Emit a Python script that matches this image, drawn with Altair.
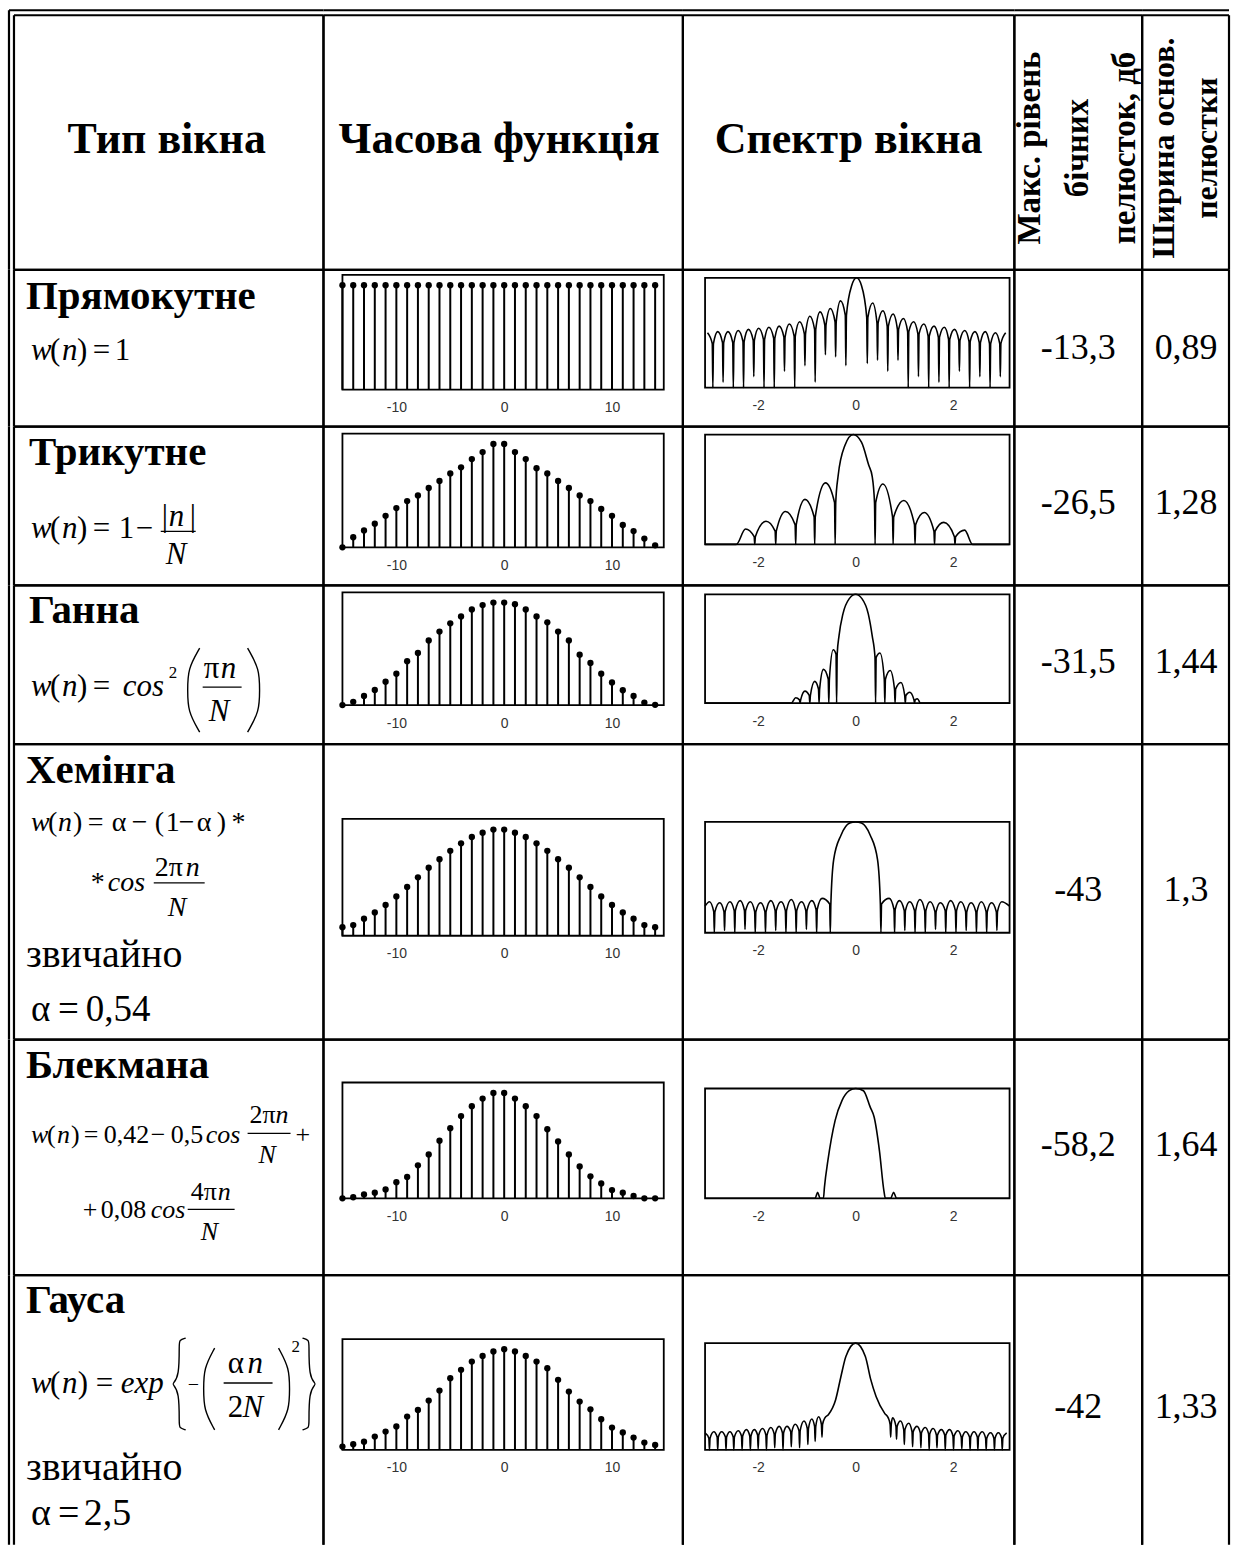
import altair as alt
import pandas as pd

SERIF = "Liberation Serif"
SANS = "Liberation Sans"

# ---------------- table content ----------------
window_names = ["Прямокутне", "Трикутне", "Ганна", "Хемінга", "Блекмана", "Гауса"]
sidelobe_db = [-13.3, -26.5, -31.5, -43, -58.2, -42]
mainlobe_width = [0.89, 1.28, 1.44, 1.3, 1.64, 1.33]
headers = ["Тип вікна", "Часова функція", "Спектр вікна"]
rot_header_4 = ["Макс. рівень", "бічних", "пелюсток, дб"]
rot_header_5 = ["Ширина основ.", "пелюстки"]
usual_word = "звичайно"

# time-domain windows, samples n = -15 .. 14 (height relative to the peak)
n_idx = [-15, -14, -13, -12, -11, -10, -9, -8, -7, -6, -5, -4, -3, -2, -1,
         0, 1, 2, 3, 4, 5, 6, 7, 8, 9, 10, 11, 12, 13, 14]
w_rect = [1.0, 1.0, 1.0, 1.0, 1.0, 1.0, 1.0, 1.0, 1.0, 1.0, 1.0, 1.0, 1.0, 1.0, 1.0,
          1.0, 1.0, 1.0, 1.0, 1.0, 1.0, 1.0, 1.0, 1.0, 1.0, 1.0, 1.0, 1.0, 1.0, 1.0]
w_tri = [0.0, 0.098, 0.164, 0.229, 0.305, 0.380, 0.447, 0.502, 0.574, 0.642, 0.715, 0.774, 0.853, 0.921, 1.0,
         1.0, 0.921, 0.853, 0.765, 0.715, 0.642, 0.574, 0.502, 0.447, 0.372, 0.305, 0.216, 0.157, 0.085, 0.02]
w_hann = [0.0, 0.032, 0.09, 0.148, 0.228, 0.306, 0.428, 0.508, 0.63, 0.717, 0.797, 0.865, 0.932, 0.975, 1.0,
          1.0, 0.984, 0.932, 0.865, 0.807, 0.717, 0.63, 0.492, 0.411, 0.306, 0.221, 0.145, 0.09, 0.025, 0.003]
w_hamm = [0.08, 0.1, 0.16, 0.22, 0.29, 0.37, 0.46, 0.55, 0.64, 0.72, 0.8, 0.87, 0.93, 0.97, 1.0,
          1.0, 0.97, 0.93, 0.87, 0.8, 0.72, 0.64, 0.55, 0.46, 0.37, 0.29, 0.22, 0.16, 0.1, 0.08]
w_black = [0.0, 0.01, 0.037, 0.054, 0.084, 0.153, 0.203, 0.313, 0.416, 0.547, 0.666, 0.781, 0.875, 0.947, 1.0,
           1.0, 0.947, 0.875, 0.781, 0.656, 0.54, 0.416, 0.303, 0.209, 0.141, 0.078, 0.054, 0.022, 0.0, 0.0]
w_gauss = [0.033, 0.056, 0.082, 0.132, 0.182, 0.232, 0.331, 0.397, 0.49, 0.589, 0.712, 0.795, 0.877, 0.933, 0.977,
           1.0, 0.977, 0.933, 0.877, 0.811, 0.696, 0.579, 0.48, 0.403, 0.304, 0.222, 0.173, 0.122, 0.073, 0.049]

# window spectra on a log scale (level = fraction of the plot height).
# *_pk: lobe tops and main-lobe outline; *_nu: nulls between lobes (where the dip starts, how deep it goes)
rect_pk_f = [-3.04, -2.83, -2.62, -2.41, -2.20, -1.99, -1.78, -1.57, -1.36, -1.15, -0.94, -0.73, -0.52, -0.31,
             -0.08, 0.02, 0.12, 0.35, 0.56, 0.77, 0.98, 1.19, 1.40, 1.61, 1.82, 2.03, 2.24, 2.45, 2.66, 2.87, 3.08]
rect_pk_l = [0.50, 0.51, 0.51, 0.52, 0.53, 0.54, 0.55, 0.56, 0.58, 0.60, 0.65, 0.69, 0.72, 0.79,
             0.93, 1.0, 0.93, 0.77, 0.70, 0.67, 0.63, 0.60, 0.58, 0.56, 0.55, 0.53, 0.52, 0.51, 0.51, 0.50, 0.50]
rect_nu_f = [-2.93, -2.72, -2.51, -2.30, -2.09, -1.88, -1.67, -1.46, -1.25, -1.04, -0.83, -0.62, -0.41, -0.20,
             0.24, 0.45, 0.66, 0.87, 1.08, 1.29, 1.50, 1.71, 1.92, 2.13, 2.34, 2.55, 2.76, 2.97]
rect_nu_top = [0.40, 0.41, 0.41, 0.42, 0.43, 0.44, 0.45, 0.46, 0.47, 0.49, 0.53, 0.57, 0.60, 0.66,
               0.64, 0.59, 0.56, 0.53, 0.51, 0.49, 0.47, 0.46, 0.44, 0.43, 0.42, 0.41, 0.40, 0.40]
rect_nu_bot = [0.0, 0.05, 0.0, 0.0, 0.10, 0.0, 0.0, 0.15, 0.0, 0.20, 0.05, 0.30, 0.28, 0.20,
               0.22, 0.25, 0.15, 0.25, 0.0, 0.10, 0.0, 0.05, 0.0, 0.15, 0.0, 0.10, 0.0, 0.10]

tri_pk_f = [-3.09, -2.45, -2.26, -1.84, -1.44, -1.04, -0.62, -0.36, -0.22, -0.05, 0.12, 0.27, 0.34,
            0.56, 0.99, 1.41, 1.81, 2.24, 2.40, 3.16]
tri_pk_l = [0.0, 0.0, 0.14, 0.21, 0.30, 0.41, 0.56, 0.62, 0.90, 1.0, 0.93, 0.72, 0.62,
            0.55, 0.40, 0.29, 0.20, 0.13, 0.0, 0.0]
tri_nu_f = [-2.07, -1.64, -1.23, -0.84, -0.42, 0.40, 0.77, 1.22, 1.62, 2.04]
tri_nu_top = [0.07, 0.12, 0.18, 0.25, 0.38, 0.38, 0.25, 0.18, 0.12, 0.07]
tri_nu_bot = [0.0, 0.0, 0.0, 0.0, 0.0, 0.0, 0.0, 0.0, 0.0, 0.0]

hann_pk_f = [-3.09, -1.32, -1.23, -1.04, -0.84, -0.66, -0.46, -0.34, -0.26, -0.13, 0.0, 0.13, 0.26, 0.34,
             0.50, 0.71, 0.93, 1.11, 1.27, 1.33, 3.16]
hann_pk_l = [0.0, 0.0, 0.05, 0.11, 0.20, 0.31, 0.49, 0.62, 0.82, 0.96, 1.0, 0.96, 0.82, 0.62,
             0.46, 0.30, 0.19, 0.10, 0.04, 0.0, 0.0]
hann_nu_f = [-1.14, -0.94, -0.75, -0.55, -0.39, 0.41, 0.60, 0.81, 1.02, 1.21]
hann_nu_top = [0.03, 0.07, 0.13, 0.22, 0.45, 0.42, 0.22, 0.13, 0.07, 0.03]
hann_nu_bot = [0.0, 0.0, 0.0, 0.0, 0.0, 0.0, 0.0, 0.0, 0.0, 0.0]

hamm_pk_f = [-3.09, -3.0, -2.79, -2.58, -2.37, -2.16, -1.95, -1.74, -1.53, -1.32, -1.11, -0.90, -0.69,
             -0.45, -0.30, -0.12, 0.0, 0.12, 0.30, 0.45,
             0.69, 0.90, 1.11, 1.32, 1.53, 1.74, 1.95, 2.16, 2.37, 2.58, 2.79, 3.0, 3.16]
hamm_pk_l = [0.24, 0.28, 0.27, 0.28, 0.29, 0.28, 0.27, 0.29, 0.28, 0.30, 0.28, 0.29, 0.31,
             0.66, 0.88, 0.99, 1.0, 0.99, 0.88, 0.66,
             0.31, 0.29, 0.28, 0.30, 0.28, 0.27, 0.29, 0.28, 0.27, 0.28, 0.27, 0.28, 0.24]
hamm_nu_f = [-2.9, -2.69, -2.48, -2.27, -2.06, -1.85, -1.64, -1.43, -1.22, -1.01, -0.80, -0.52,
             0.52, 0.80, 1.01, 1.22, 1.43, 1.64, 1.85, 2.06, 2.27, 2.48, 2.69, 2.9]
hamm_nu_top = [0.19, 0.19, 0.20, 0.20, 0.19, 0.19, 0.20, 0.20, 0.20, 0.20, 0.21, 0.26,
               0.26, 0.21, 0.20, 0.20, 0.20, 0.19, 0.20, 0.20, 0.19, 0.19, 0.19, 0.19]
hamm_nu_bot = [0.0, 0.02, 0.0, 0.03, 0.0, 0.0, 0.02, 0.0, 0.0, 0.03, 0.0, 0.0,
               0.0, 0.0, 0.02, 0.0, 0.0, 0.03, 0.0, 0.0, 0.02, 0.0, 0.0, 0.02]

black_pk_f = [-3.09, -0.83, -0.78, -0.73, -0.66, -0.64, -0.57, -0.42, -0.28, -0.13,
              0.0, 0.16, 0.30, 0.38, 0.49, 0.58, 0.61, 0.72, 0.78, 0.84, 3.16]
black_pk_l = [0.0, 0.0, 0.055, 0.0, 0.0, 0.10, 0.34, 0.71, 0.89, 0.98,
              1.0, 0.98, 0.83, 0.74, 0.43, 0.07, 0.0, 0.0, 0.055, 0.0, 0.0]
black_nu_f = []
black_nu_top = []
black_nu_bot = []

gauss_pk_f = [-3.09, -2.91, -2.75, -2.58, -2.41, -2.24, -2.08, -1.91, -1.74, -1.57, -1.41, -1.24, -1.06, -0.90,
              -0.76, -0.63, -0.56, -0.41, -0.30, -0.20, 0.0, 0.20, 0.31, 0.42, 0.60, 0.67,
              0.76, 0.92, 1.09, 1.26, 1.43, 1.59, 1.76, 1.93, 2.10, 2.26, 2.43, 2.60, 2.77, 2.93, 3.10]
gauss_pk_l = [0.16, 0.17, 0.17, 0.17, 0.18, 0.19, 0.19, 0.20, 0.21, 0.22, 0.22, 0.24, 0.27, 0.29,
              0.31, 0.30, 0.33, 0.47, 0.69, 0.875, 1.0, 0.875, 0.66, 0.50, 0.34, 0.30,
              0.30, 0.27, 0.25, 0.22, 0.21, 0.20, 0.19, 0.19, 0.18, 0.17, 0.17, 0.17, 0.16, 0.16, 0.16]
gauss_nu_f = [-3.0, -2.83, -2.66, -2.5, -2.33, -2.16, -2.0, -1.83, -1.66, -1.49, -1.32, -1.15, -0.98, -0.83,
              -0.69, 0.72, 0.84, 1.0, 1.17, 1.34, 1.51, 1.67, 1.84, 2.01, 2.18, 2.35, 2.51, 2.68, 2.85, 3.01]
gauss_nu_top = [0.11, 0.12, 0.12, 0.12, 0.13, 0.13, 0.14, 0.14, 0.15, 0.16, 0.17, 0.18, 0.20, 0.22,
                0.24, 0.24, 0.22, 0.19, 0.17, 0.16, 0.15, 0.14, 0.14, 0.13, 0.12, 0.12, 0.12, 0.11, 0.11, 0.11]
gauss_nu_bot = [0.0, 0.0, 0.0, 0.0, 0.0, 0.0, 0.01, 0.0, 0.02, 0.0, 0.03, 0.02, 0.05, 0.08,
                0.12, 0.12, 0.10, 0.05, 0.03, 0.02, 0.0, 0.02, 0.0, 0.0, 0.01, 0.0, 0.0, 0.0, 0.0, 0.0]

time_series = [w_rect, w_tri, w_hann, w_hamm, w_black, w_gauss]
spectra = [
    (rect_pk_f, rect_pk_l, rect_nu_f, rect_nu_top, rect_nu_bot),
    (tri_pk_f, tri_pk_l, tri_nu_f, tri_nu_top, tri_nu_bot),
    (hann_pk_f, hann_pk_l, hann_nu_f, hann_nu_top, hann_nu_bot),
    (hamm_pk_f, hamm_pk_l, hamm_nu_f, hamm_nu_top, hamm_nu_bot),
    (black_pk_f, black_pk_l, black_nu_f, black_nu_top, black_nu_bot),
    (gauss_pk_f, gauss_pk_l, gauss_nu_f, gauss_nu_top, gauss_nu_bot),
]
time_ticks = [-10, 0, 10]
freq_ticks = [-2, 0, 2]

# ---------------- page layout ----------------
COLS = [8, 323, 683, 1015, 1143, 1230]
ROWS = [8, 268, 425, 584, 743, 1039, 1275, 1545]
GAP = 5          # spacing of the double outer frame
LW = 2.2         # table line width
NOTCH = 0.012    # half width of a spectral null dip
ONE = pd.DataFrame({"k": [0]})

TIME_FRAME_Y = [(273, 388), (432, 546), (591, 704), (818, 935), (1082, 1198), (1339, 1450)]
SPEC_FRAME_Y = [(276, 386), (433, 543), (593, 702), (821, 932), (1088, 1198), (1343, 1450)]
TIME_ZERO_X, TIME_PPU = 504, 10.8
SPEC_ZERO_X, SPEC_PPU = 856, 48.8
N_LO, N_HI, YMAX = -15, 14.8, 1.1
F_LO, F_HI = -3.09, 3.16


def cell_size(ci, ri):
    return COLS[ci + 1] - COLS[ci], ROWS[ri + 1] - ROWS[ri]


def border_layers(ci, ri):
    w, h = cell_size(ci, ri)
    last = ri == len(ROWS) - 2
    xl = GAP if ci == 0 else 0
    yt = GAP if ri == 0 else 0
    segs = [(xl, yt, xl, h), (w, yt, w, h), (xl, yt, w, yt)]
    if not last:
        segs.append((xl, h, w, h))
    if ci == 0:
        segs.append((0, 0, 0, h))
    if ri == 0:
        segs.append((0, 0, w, 0))
    return [alt.Chart(ONE).mark_rule(color="black", strokeWidth=LW).encode(
        x=alt.value(a), y=alt.value(b), x2=alt.value(c), y2=alt.value(d)) for a, b, c, d in segs]


KIND = {"b": ("bold", "normal"), "r": ("normal", "normal"), "i": ("normal", "italic")}


def text_layers(ci, ri, frags):
    ox, oy = COLS[ci], ROWS[ri]
    rows = []
    for f in frags:
        x, y, t, size, kind = f[:5]
        align = f[5] if len(f) > 5 else "left"
        angle = f[6] if len(f) > 6 else 0
        rows.append(dict(x=x - ox, y=y - oy, t=t, size=size, kind=kind, align=align, angle=angle))
    df = pd.DataFrame(rows)
    layers = []
    for (kind, align, angle), g in df.groupby(["kind", "align", "angle"]):
        weight, style = KIND[kind]
        layers.append(
            alt.Chart(g[["x", "y", "t", "size"]]).mark_text(
                font=SERIF, fontWeight=weight, fontStyle=style, align=align,
                baseline="middle" if angle else "alphabetic", angle=int(angle), color="black"
            ).encode(
                x=alt.X("x:Q", scale=None), y=alt.Y("y:Q", scale=None), text="t:N",
                size=alt.Size("size:Q", scale=None, legend=None)))
    return layers


def bar_layers(ci, ri, bars):
    ox, oy = COLS[ci], ROWS[ri]
    return [alt.Chart(ONE).mark_rule(color="black", strokeWidth=1.3).encode(
        x=alt.value(x1 - ox), x2=alt.value(x2 - ox), y=alt.value(y - oy)) for x1, x2, y in bars]


def delim_layer(ci, ri, delims):
    ox, oy = COLS[ci], ROWS[ri]
    rows = []
    for i, (kind, x1, x2, top, bot) in enumerate(delims):
        mid = (top + bot) / 2
        w = x2 - x1
        if kind == "(":
            pts = [(x2, top), (x1, top + 0.25 * (bot - top)), (x1, mid), (x1, bot - 0.25 * (bot - top)), (x2, bot)]
        elif kind == ")":
            pts = [(x1, top), (x2, top + 0.25 * (bot - top)), (x2, mid), (x2, bot - 0.25 * (bot - top)), (x1, bot)]
        elif kind == "{":
            xm = x1 + 0.5 * w
            pts = [(x2, top), (xm, top + 2), (xm, top + 6), (xm, mid - 8), (x1, mid), (x1, mid),
                   (xm, mid + 8), (xm, bot - 6), (xm, bot - 2), (x2, bot)]
        else:
            xm = x1 + 0.5 * w
            pts = [(x1, top), (xm, top + 2), (xm, top + 6), (xm, mid - 8), (x2, mid), (x2, mid),
                   (xm, mid + 8), (xm, bot - 6), (xm, bot - 2), (x1, bot)]
        for k, (px, py) in enumerate(pts):
            rows.append(dict(id=i, k=k, x=px - ox, y=py - oy))
    return [alt.Chart(pd.DataFrame(rows)).mark_line(color="black", strokeWidth=1.4, interpolate="basis").encode(
        x=alt.X("x:Q", scale=None), y=alt.Y("y:Q", scale=None), detail="id:N", order="k:Q")]


def mini_axis(values, offset):
    return alt.Axis(values=values, offset=offset, domain=False, ticks=False, tickSize=0, grid=False,
                    labelPadding=11, labelFont=SANS, labelFontSize=14, labelColor="#333", title="",
                    labelExpr="datum.value < 0 ? '-' + (-datum.value) : '' + datum.value")


def stem_cell(ri, vals):
    ci = 1
    w, h = cell_size(ci, ri)
    x0 = TIME_ZERO_X - COLS[ci]
    yt, yb = TIME_FRAME_Y[ri - 1][0] - ROWS[ri], TIME_FRAME_Y[ri - 1][1] - ROWS[ri]
    k = (yb - yt) / YMAX
    xs = alt.Scale(domain=[-x0 / TIME_PPU, (w - x0) / TIME_PPU], nice=False, zero=False)
    ys = alt.Scale(domain=[-(h - yb) / k, yb / k], nice=False, zero=False)
    ax = mini_axis(time_ticks, -(h - yb))
    frame = alt.Chart(pd.DataFrame({"n": [N_LO], "n2": [N_HI], "v": [0.0], "v2": [YMAX]})).mark_rect(
        fillOpacity=0, stroke="black", strokeWidth=1.8).encode(
        x=alt.X("n:Q", scale=xs, axis=ax), x2="n2:Q", y=alt.Y("v:Q", scale=ys, axis=None), y2="v2:Q")
    df = pd.DataFrame({"n": n_idx, "v": vals})
    stems = alt.Chart(df).mark_rule(color="black", strokeWidth=2).encode(
        x=alt.X("n:Q", scale=xs, axis=ax), y=alt.Y("v:Q", scale=ys, axis=None), y2=alt.datum(0))
    dots = alt.Chart(df).mark_circle(color="black", size=40, opacity=1).encode(
        x=alt.X("n:Q", scale=xs, axis=ax), y=alt.Y("v:Q", scale=ys, axis=None))
    return [frame, stems, dots]


def spec_cell(ri, pk_f, pk_l, nu_f, nu_top, nu_bot):
    ci = 2
    w, h = cell_size(ci, ri)
    x0 = SPEC_ZERO_X - COLS[ci]
    yt, yb = SPEC_FRAME_Y[ri - 1][0] - ROWS[ri], SPEC_FRAME_Y[ri - 1][1] - ROWS[ri]
    k = (yb - yt)
    xs = alt.Scale(domain=[-x0 / SPEC_PPU, (w - x0) / SPEC_PPU], nice=False, zero=False)
    ys = alt.Scale(domain=[-(h - yb) / k, yb / k], nice=False, zero=False)
    ax = mini_axis(freq_ticks, -(h - yb))
    frame = alt.Chart(pd.DataFrame({"f": [F_LO], "f2": [F_HI], "l": [0.0], "l2": [1.0]})).mark_rect(
        fillOpacity=0, stroke="black", strokeWidth=1.8).encode(
        x=alt.X("f:Q", scale=xs, axis=ax), x2="f2:Q", y=alt.Y("l:Q", scale=ys, axis=None), y2="l2:Q")
    # each null is a narrow, nearly vertical dip in the outline
    fs, ls = list(pk_f), list(pk_l)
    for f, top, bot in zip(nu_f, nu_top, nu_bot):
        fs += [f - NOTCH, f, f + NOTCH]
        ls += [top, bot, top]
    line = alt.Chart(pd.DataFrame({"f": fs, "l": ls})).mark_line(
        color="black", strokeWidth=1.6, interpolate="monotone").encode(
        x=alt.X("f:Q", scale=xs, axis=ax), y=alt.Y("l:Q", scale=ys, axis=None))
    return [frame, line]


def fmt(v):
    return ("%g" % v).replace(".", ",")


def cell(ci, ri, layers):
    w, h = cell_size(ci, ri)
    return alt.layer(*(layers + border_layers(ci, ri))).properties(width=w, height=h)


# ---------------- header row ----------------
cells = [
    cell(0, 0, text_layers(0, 0, [(166, 151, headers[0], 44, "b", "center")])),
    cell(1, 0, text_layers(1, 0, [(499, 151, headers[1], 45, "b", "center")])),
    cell(2, 0, text_layers(2, 0, [(849, 151, headers[2], 44, "b", "center")])),
    cell(3, 0, text_layers(3, 0, [(1031, 146, rot_header_4[0], 33, "b", "center", 270),
                                  (1079, 146, rot_header_4[1], 33, "b", "center", 270),
                                  (1126, 146, rot_header_4[2], 33, "b", "center", 270)])),
    cell(4, 0, text_layers(4, 0, [(1165, 146, rot_header_5[0], 32, "b", "center", 270),
                                  (1208, 146, rot_header_5[1], 32, "b", "center", 270)])),
]

# ---------------- first column: names and formulas ----------------
formula_frags = {
    1: [(25, 307, window_names[0], 41, "b"),
        (30, 358, "w", 31, "i"), (49, 358, "(", 31, "r"), (61, 358, "n", 31, "i"),
        (76, 358, ")", 31, "r"), (92, 358, "=", 31, "r"), (114, 358, "1", 31, "r")],
    2: [(28, 463, window_names[1], 41, "b"),
        (30, 537, "w", 31, "i"), (49, 537, "(", 31, "r"), (61, 537, "n", 31, "i"),
        (76, 537, ")", 31, "r"), (92, 537, "=", 31, "r"), (118, 537, "1", 31, "r"),
        (135, 537, "\u2212", 31, "r"),
        (161, 525, "|", 31, "r"), (168, 525, "n", 31, "i"), (189, 525, "|", 31, "r"),
        (165, 563, "N", 31, "i")],
    3: [(28, 622, window_names[2], 41, "b"),
        (30, 695, "w", 31, "i"), (49, 695, "(", 31, "r"), (61, 695, "n", 31, "i"),
        (76, 695, ")", 31, "r"), (92, 695, "=", 31, "r"), (122, 695, "cos", 31, "i"),
        (168, 677, "2", 17, "r"),
        (203, 677, "\u03c0", 31, "r"), (220, 677, "n", 31, "i"), (208, 720, "N", 31, "i")],
    4: [(25, 782, window_names[3], 41, "b"),
        (30, 830, "w", 28, "i"), (47, 830, "(", 28, "r"), (57, 830, "n", 28, "i"),
        (72, 830, ")", 28, "r"), (87, 830, "=", 28, "r"), (111, 830, "\u03b1", 28, "r"),
        (131, 830, "\u2212", 28, "r"), (154, 830, "(", 28, "r"), (165, 830, "1", 28, "r"),
        (178, 830, "\u2212", 28, "r"), (196, 830, "\u03b1", 28, "r"), (216, 830, ")", 28, "r"),
        (231, 830, "*", 28, "r"),
        (90, 890, "*", 28, "r"), (107, 890, "cos", 28, "i"),
        (154, 875, "2", 28, "r"), (168, 875, "\u03c0", 28, "r"), (185, 875, "n", 28, "i"),
        (167, 915, "N", 28, "i"),
        (25, 966, usual_word, 40, "r"),
        (30, 1020, "\u03b1", 37, "r"), (57, 1020, "=", 37, "r"), (85, 1020, "0,54", 37, "r")],
    5: [(25, 1077, window_names[4], 41, "b"),
        (30, 1143, "w", 26, "i"), (46, 1143, "(", 26, "r"), (56, 1143, "n", 26, "i"),
        (70, 1143, ")", 26, "r"), (83, 1143, "=", 26, "r"), (103, 1143, "0,42", 26, "r"),
        (150, 1143, "\u2212", 26, "r"), (170, 1143, "0,5", 26, "r"), (205, 1143, "cos", 26, "i"),
        (249, 1123, "2", 26, "r"), (262, 1123, "\u03c0", 26, "r"), (275, 1123, "n", 26, "i"),
        (258, 1163, "N", 26, "i"), (295, 1143, "+", 26, "r"),
        (82, 1218, "+", 26, "r"), (100, 1218, "0,08", 26, "r"), (150, 1218, "cos", 26, "i"),
        (190, 1200, "4", 26, "r"), (203, 1200, "\u03c0", 26, "r"), (217, 1200, "n", 26, "i"),
        (200, 1240, "N", 26, "i")],
    6: [(25, 1313, window_names[5], 41, "b"),
        (30, 1393, "w", 31, "i"), (49, 1393, "(", 31, "r"), (61, 1393, "n", 31, "i"),
        (77, 1393, ")", 31, "r"), (95, 1393, "=", 31, "r"), (120, 1393, "exp", 31, "i"),
        (187, 1391, "\u2212", 20, "r"),
        (227, 1373, "\u03b1", 31, "r"), (247, 1373, "n", 31, "i"),
        (227, 1417, "2", 31, "r"), (242, 1417, "N", 31, "i"),
        (291, 1352, "2", 17, "r"),
        (25, 1480, usual_word, 40, "r"),
        (30, 1525, "\u03b1", 38, "r"), (57, 1525, "=", 38, "r"), (83, 1525, "2,5", 38, "r")],
}
formula_bars = {
    1: [], 2: [(160, 195, 530)], 3: [(202, 241, 686)], 4: [(153, 204, 882)],
    5: [(247, 290, 1133), (187, 234, 1209)], 6: [(223, 272, 1383)],
}
formula_delims = {
    3: [("(", 187, 199, 647, 731), (")", 247, 259, 647, 731)],
    6: [("{", 172, 185, 1338, 1430), ("(", 203, 214, 1348, 1430), (")", 278, 289, 1348, 1430),
        ("}", 302, 315, 1338, 1430)],
}

VALUE_CY = [345, 501, 660, 888, 1144, 1406]

for r in range(1, 7):
    left = text_layers(0, r, formula_frags[r]) + bar_layers(0, r, formula_bars[r])
    if r in formula_delims:
        left += delim_layer(0, r, formula_delims[r])
    cy = VALUE_CY[r - 1]
    cells += [
        cell(0, r, left),
        cell(1, r, stem_cell(r, time_series[r - 1])),
        cell(2, r, spec_cell(r, *spectra[r - 1])),
        cell(3, r, text_layers(3, r, [(1079, cy + 12, fmt(sidelobe_db[r - 1]), 36, "r", "center")])),
        cell(4, r, text_layers(4, r, [(1187, cy + 12, fmt(mainlobe_width[r - 1]), 36, "r", "center")])),
    ]

chart = alt.concat(*cells, columns=5, spacing=0, bounds="flush").properties(
    padding={"left": 7, "top": 7, "right": 2, "bottom": 0},
    background="white",
).configure_view(strokeWidth=0)

chart.save("out.html", embed_options={"renderer": "svg", "actions": False})
